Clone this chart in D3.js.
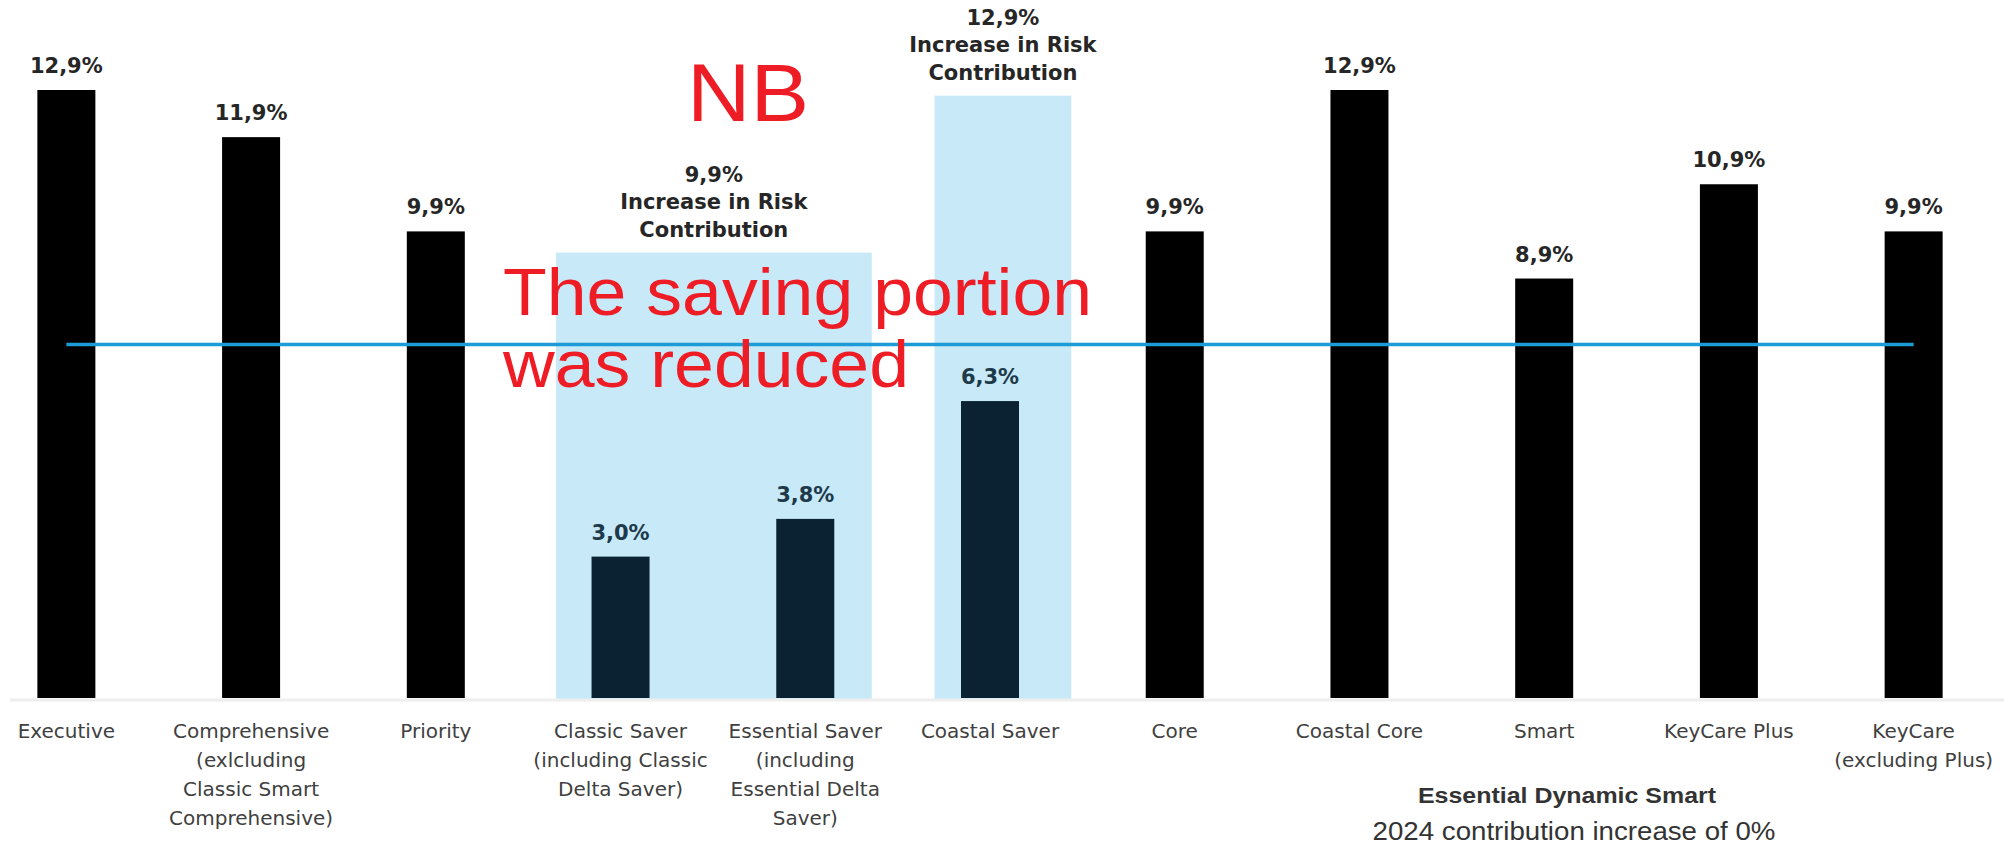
<!DOCTYPE html>
<html>
<head>
<meta charset="utf-8">
<script src="https://cdn.jsdelivr.net/npm/d3@7"></script>
<style>
  body { margin: 0; background: #fff; }
  svg { display: block; }
</style>
</head>
<body>
<div id="chart"></div>
<script>
// categories (axis labels split into lines) and contribution increases (%)
const categories = [
  "Executive",
  "Comprehensive|(exlcluding|Classic Smart|Comprehensive)",
  "Priority",
  "Classic Saver|(including Classic|Delta Saver)",
  "Essential Saver|(including|Essential Delta|Saver)",
  "Coastal Saver",
  "Core",
  "Coastal Core",
  "Smart",
  "KeyCare Plus",
  "KeyCare|(excluding Plus)",
];
const increases = [12.9, 11.9, 9.9, 3.0, 3.8, 6.3, 9.9, 12.9, 8.9, 10.9, 9.9];
const saverPlans = ["Classic Saver|(including Classic|Delta Saver)", "Essential Saver|(including|Essential Delta|Saver)", "Coastal Saver"];

// risk contribution highlight boxes: span in category units, height in %
const riskLabels = ["9,9%", "12,9%"];
const riskBoxFrom = [2.65, 4.7];
const riskBoxTo = [4.36, 5.44];
const riskBoxTop = [9.45, 12.78];

const refLine = 7.5;
const noteLines = ["The saving portion", "was reduced"];
const footerTitle = "Essential Dynamic Smart";
const footerText = "2024 contribution increase of 0%";

const width = 2008, height = 849;
const data = categories.map((c, i) => ({ cat: c, value: increases[i] }));

const svg = d3.select("#chart").append("svg")
  .attr("width", width)
  .attr("height", height);

const x = d3.scaleBand()
  .domain(categories)
  .range([-26, 2006])
  .paddingInner(0.686)
  .paddingOuter(0.343);

// category index -> px (for boxes and the reference line)
const xi = d3.scaleLinear().domain([-0.5, categories.length - 0.5]).range([-26, 2006]);

const y = d3.scaleLinear().domain([0, 12.9]).range([698, 90]);

// highlight boxes
svg.selectAll(".risk-box")
  .data(riskLabels)
  .enter()
  .append("rect")
  .attr("class", "risk-box")
  .attr("x", (d, i) => xi(riskBoxFrom[i]))
  .attr("width", (d, i) => xi(riskBoxTo[i]) - xi(riskBoxFrom[i]))
  .attr("y", (d, i) => y(riskBoxTop[i]))
  .attr("height", (d, i) => y(0) + 3 - y(riskBoxTop[i]))
  .attr("fill", "#c7e9f8");

// risk box captions
riskLabels.forEach((lab, i) => {
  const cx = (xi(riskBoxFrom[i]) + xi(riskBoxTo[i])) / 2;
  const base = y(riskBoxTop[i]) - 16;
  const lines = [lab, "Increase in Risk", "Contribution"];
  svg.append("text")
    .attr("text-anchor", "middle")
    .attr("font-family", "DejaVu Sans")
    .attr("font-weight", "bold")
    .attr("font-size", 21)
    .attr("fill", "#262626")
    .selectAll("tspan")
    .data(lines)
    .enter()
    .append("tspan")
    .attr("x", cx)
    .attr("y", (d, j) => base - (lines.length - 1 - j) * 27.5)
    .text((d) => d);
});

// faint baseline
svg.append("line")
  .attr("x1", 10).attr("x2", 2004)
  .attr("y1", y(0) + 2).attr("y2", y(0) + 2)
  .attr("stroke", "#eeeeee")
  .attr("stroke-width", 3);

// bars
svg.selectAll(".bar")
  .data(data)
  .enter()
  .append("rect")
  .attr("class", "bar")
  .attr("x", (d) => x(d.cat))
  .attr("width", x.bandwidth())
  .attr("y", (d) => y(d.value))
  .attr("height", (d) => y(0) - y(d.value))
  .attr("fill", (d) => (saverPlans.includes(d.cat) ? "#0b2232" : "#000000"));

// value labels
svg.selectAll(".val")
  .data(data)
  .enter()
  .append("text")
  .attr("class", "val")
  .attr("x", (d) => x(d.cat) + x.bandwidth() / 2)
  .attr("y", (d) => y(d.value) - 17)
  .attr("text-anchor", "middle")
  .attr("font-family", "DejaVu Sans")
  .attr("font-weight", "bold")
  .attr("font-size", 21)
  .attr("fill", (d) => (saverPlans.includes(d.cat) ? "#1e3a4a" : "#262626"))
  .text((d) => d3.format(".1f")(d.value).replace(".", ",") + "%");

// axis labels
const xAxis = svg.append("g")
  .attr("transform", `translate(0,${y(0)})`)
  .call(d3.axisBottom(x).tickSize(0).tickFormat(""));
xAxis.select(".domain").remove();
xAxis.selectAll(".tick").each(function (d) {
  const t = d3.select(this).append("text")
    .attr("text-anchor", "middle")
    .attr("font-family", "DejaVu Sans")
    .attr("font-size", 20)
    .attr("fill", "#404040");
  d.split("|").forEach((line, j) => {
    t.append("tspan").attr("x", 0).attr("y", 40 + j * 29).text(line);
  });
});

// reference line
svg.append("line")
  .attr("x1", xi(0)).attr("x2", xi(categories.length - 1))
  .attr("y1", y(refLine)).attr("y2", y(refLine))
  .attr("stroke", "#1c9bd6")
  .attr("stroke-width", 3.5);

// red annotations (source picture is slightly stretched horizontally)
const stretch = 1.085;
function stretchedText(tx, ty, str, size, opts) {
  const g = svg.append("g").attr("transform", `translate(${tx},${ty}) scale(${stretch},1)`);
  const t = g.append("text")
    .attr("font-family", "Liberation Sans, Arial, sans-serif")
    .attr("font-size", size)
    .attr("fill", opts.fill)
    .attr("font-weight", opts.weight || "normal")
    .attr("text-anchor", opts.anchor || "start")
    .text(str);
  return t;
}

stretchedText(687, 121, "NB", 81, { fill: "#ee1d25" });
noteLines.forEach((line, j) => {
  stretchedText(503, 315 + j * 72, line, 66, { fill: "#ee1d25" });
});

stretchedText(1567, 803, footerTitle, 23, { fill: "#333333", weight: "bold", anchor: "middle" });
stretchedText(1574, 840, footerText, 25.5, { fill: "#333333", anchor: "middle" });
</script>
</body>
</html>
